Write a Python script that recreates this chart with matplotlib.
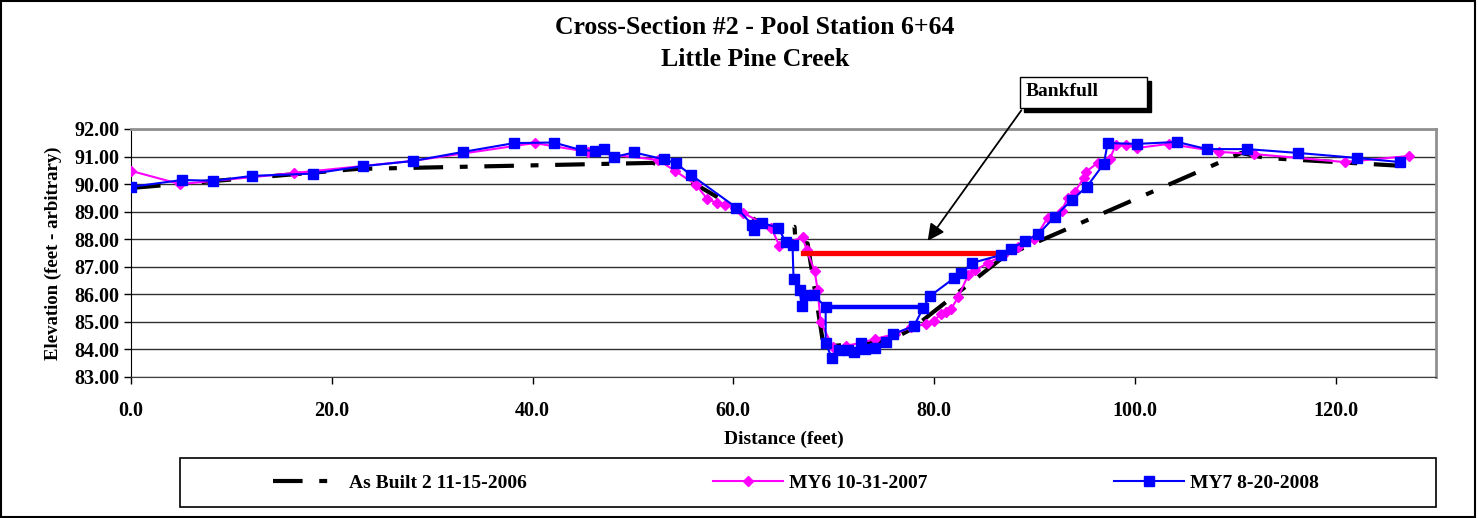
import matplotlib
matplotlib.use("Agg")
import matplotlib.pyplot as plt
from matplotlib.patches import Rectangle

plt.rcParams['font.family'] = ['Liberation Serif', 'DejaVu Serif']
plt.rcParams['font.weight'] = 'bold'

# As Built 2 11-15-2006
asbuilt_x = [0.0, 22.5, 52.0, 54.0, 56.0, 58.4, 60.0, 62.2, 64.7, 66.1, 66.2, 67.4,
             69.0, 75.5, 77.8, 87.0, 110.6, 113.0, 126.2]
asbuilt_y = [89.86, 90.55, 90.77, 90.51, 90.04, 89.53, 89.20, 88.70, 88.23, 88.45, 87.90, 87.85,
             84.10, 84.30, 84.75, 87.38, 91.13, 90.95, 90.67]

# MY6 10-31-2007
my6_x = [0.0, 4.9, 16.2, 28.0, 40.2, 45.5, 52.5, 54.2, 56.3, 57.4, 58.4, 59.2, 60.2,
         61.0, 63.8, 64.6, 66.9, 67.3, 68.1, 68.4, 68.7, 69.9, 71.2, 72.7, 74.1, 76.1,
         77.7, 79.2, 80.0, 80.7, 81.2, 81.7, 82.4, 83.4, 84.1, 85.4, 86.9, 88.4, 90.0,
         91.3, 92.7, 93.3, 94.0, 94.9, 95.1, 96.3, 97.5, 98.1, 99.1, 100.2, 103.4,
         108.4, 111.9, 120.9, 127.3]
my6_y = [90.48, 90.00, 90.40, 90.84, 91.49, 91.17, 90.88, 90.48, 89.97, 89.46, 89.31, 89.24, 89.13,
         88.95, 88.41, 87.75, 88.08, 87.61, 86.85, 86.16, 85.00, 84.10, 84.13, 84.24, 84.38, 84.56,
         84.81, 84.92, 85.05, 85.29, 85.36, 85.47, 85.90, 86.70, 86.88, 87.14, 87.43, 87.70, 88.00,
         88.77, 89.02, 89.50, 89.71, 90.22, 90.44, 90.77, 90.91, 91.42, 91.42, 91.31, 91.46,
         91.17, 91.09, 90.80, 91.02]

# MY7 8-20-2008
my7_x = [0.0, 5.1, 8.2, 12.1, 18.1, 23.1, 28.1, 33.1, 38.2, 42.1, 44.8, 46.2, 47.1, 48.1,
         50.1, 53.1, 54.3, 55.8, 60.3, 61.9, 62.1, 62.9, 64.5, 65.2, 65.9, 66.0, 66.6, 66.8,
         67.2, 68.0, 69.2, 69.2, 69.8, 70.5, 71.4, 72.0, 72.7, 73.1, 74.1, 75.2, 75.9, 78.0,
         78.9, 79.6, 82.0, 82.7, 83.8, 86.7, 87.7, 89.1, 90.4, 92.0, 93.7, 95.2, 96.9, 97.3,
         100.2, 104.2, 107.2, 111.2, 116.3, 122.1, 126.4]
my7_y = [89.90, 90.15, 90.12, 90.30, 90.38, 90.65, 90.84, 91.17, 91.49, 91.51, 91.24, 91.20, 91.28, 90.98,
         91.15, 90.90, 90.75, 90.33, 89.15, 88.52, 88.34, 88.59, 88.41, 87.90, 87.79, 86.56, 86.16, 85.58,
         85.98, 85.98, 85.54, 84.24, 83.69, 83.98, 83.98, 83.91, 84.24, 84.02, 84.05, 84.27, 84.56, 84.85,
         85.50, 85.94, 86.59, 86.77, 87.14, 87.43, 87.65, 87.94, 88.19, 88.81, 89.42, 89.90, 90.73, 91.49,
         91.46, 91.53, 91.27, 91.27, 91.13, 90.95, 90.80]

bankfull_x = [66.9, 86.9]
bankfull_y = [87.5, 87.5]
water_x = [70.0, 78.9]
water_y = [85.55, 85.55]

x_ticks = [0, 20, 40, 60, 80, 100, 120]
y_ticks = [83, 84, 85, 86, 87, 88, 89, 90, 91, 92]

W, H = 1478, 518
fig = plt.figure(figsize=(W / 100, H / 100), dpi=100)
ax = fig.add_axes([131 / W, 1 - 377 / H, (1436 - 131) / W, (377 - 129) / H])

ax.plot(asbuilt_x, asbuilt_y, color='black', lw=3, dashes=(7.1, 4, 1.9, 4),
        label='As Built 2 11-15-2006', zorder=3)
ax.plot(my6_x, my6_y, color='#FF00FF', lw=1.5, marker='D', ms=5.5,
        label='MY6 10-31-2007', zorder=4)
ax.plot(bankfull_x, bankfull_y, color='#FF0000', lw=3.8, zorder=5)
ax.plot(water_x, water_y, color='#0000FF', lw=3.2, zorder=5)
ax.plot(my7_x, my7_y, color='#0000FF', lw=1.5, marker='s', ms=6.5,
        label='MY7 8-20-2008', zorder=6)

ax.set_xlim(0, 130)
ax.set_ylim(83, 92)
ax.set_xticks(x_ticks)
ax.set_yticks(y_ticks)
ax.set_xticklabels([f'{v:.1f}' for v in x_ticks], fontsize=14.5, fontweight='bold')
ax.set_yticklabels([f'{v:.2f}' for v in y_ticks], fontsize=14.5, fontweight='bold')
ax.tick_params(direction='out', length=5, width=1, colors='black')
ax.tick_params(axis='x', pad=12)
ax.yaxis.grid(True, color='#303030', lw=1)
ax.set_axisbelow(True)
for s in ['top', 'right']:
    ax.spines[s].set_color('#909090')
    ax.spines[s].set_linewidth(2)
ax.spines['left'].set_color('black')
ax.spines['bottom'].set_color('#404040')

ax.set_xlabel('Distance (feet)', fontsize=14, fontweight='bold')
ax.set_ylabel('Elevation (feet - arbitrary)', fontsize=13.5, fontweight='bold')
ax.xaxis.set_label_coords(0.5, -0.215)
ax.yaxis.set_label_coords(-0.053, 0.5)

fig.text(755 / W, 1 - 27 / H, 'Cross-Section #2 - Pool Station 6+64', ha='center', va='center',
         fontsize=18.5, fontweight='bold')
fig.text(755 / W, 1 - 59 / H, 'Little Pine Creek', ha='center', va='center',
         fontsize=18.5, fontweight='bold')

# Bankfull callout
fig.patches.append(Rectangle((1024 / W, 1 - 112 / H), 127 / W, 31 / H, transform=fig.transFigure,
                             facecolor='black', edgecolor='black', zorder=10))
fig.patches.append(Rectangle((1020 / W, 1 - 108 / H), 127 / W, 31 / H, transform=fig.transFigure,
                             facecolor='white', edgecolor='black', lw=1, zorder=11))
fig.text(1026 / W, 1 - 92 / H, 'Bankfull', ha='left', va='center', fontsize=14,
         fontweight='bold', zorder=12)
ax.annotate('', xy=(79.2, 87.86), xycoords='data',
            xytext=(1023 / W, 1 - 108 / H), textcoords='figure fraction',
            arrowprops=dict(arrowstyle='-|>', color='black', lw=1.3, mutation_scale=25),
            annotation_clip=False, zorder=12)

# legend box
fig.patches.append(Rectangle((180 / W, 1 - 507 / H), (1436 - 180) / W, 49 / H,
                             transform=fig.transFigure, facecolor='white',
                             edgecolor='black', lw=1.2, zorder=0))
handles, labels = ax.get_legend_handles_labels()
fig.legend(handles, labels, loc='center', bbox_to_anchor=(796 / W, 1 - 483 / H), ncol=3,
           frameon=False, handlelength=3.6, columnspacing=9.6, handletextpad=0.3,
           prop={'weight': 'bold', 'size': 14})

# outer border
fig.patches.append(Rectangle((0.001, 0.002), 0.997, 0.996, transform=fig.transFigure,
                             facecolor='none', edgecolor='black', lw=1.5))

fig.savefig('out.png', dpi=100)
